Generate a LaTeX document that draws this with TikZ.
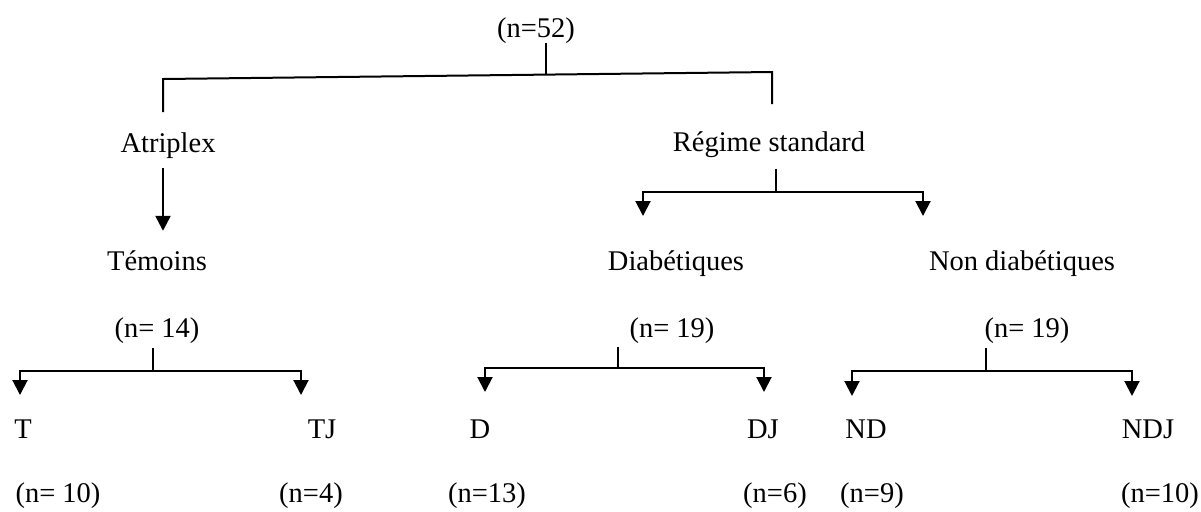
\documentclass[tikz,border=0pt]{standalone}
\usepackage{fontspec}
\setmainfont{Liberation Serif}
\usetikzlibrary{arrows.meta}
\tikzset{
  lbl/.style={anchor=base, inner sep=0pt, font=\fontsize{14.25}{17}\selectfont},
  br/.style={line width=1pt},
  stem/.style={line width=0.8pt},
  arr/.style={line width=1pt, -{Triangle[width=7.5pt,length=7.5pt]}}
}
\begin{document}
\begin{tikzpicture}[x=0.5pt, y=-0.5pt]
    \useasboundingbox (0,0) rectangle (1201,511);
    % labels
    \node[lbl] (root) at (536,37) {(n=52)};
    \node[lbl] (atr) at (168,152) {Atriplex};
    \node[lbl] (reg) at (769,151) {Régime standard};
    \node[lbl] (tem) at (157,270) {Témoins};
    \node[lbl] (dia) at (676,270) {Diabétiques};
    \node[lbl] (non) at (1022,270) {Non diabétiques};
    \node[lbl] (n14) at (157,337) {(n= 14)};
    \node[lbl] (n19d) at (672,337) {(n= 19)};
    \node[lbl] (n19n) at (1027,337) {(n= 19)};
    \node[lbl] (t) at (23,438) {T};
    \node[lbl] (tj) at (322,438) {TJ};
    \node[lbl] (d) at (480,438) {D};
    \node[lbl] (dj) at (763,438) {DJ};
    \node[lbl] (nd) at (866,438) {ND};
    \node[lbl] (ndj) at (1148,438) {NDJ};
    \node[lbl] (nt) at (58,502) {(n= 10)};
    \node[lbl] (ntj) at (311,502) {(n=4)};
    \node[lbl] (nd13) at (487,502) {(n=13)};
    \node[lbl] (ndj6) at (775,502) {(n=6)};
    \node[lbl] (nnd) at (872,502) {(n=9)};
    \node[lbl] (nndj) at (1160,502) {(n=10)};
    % top bracket
    \coordinate (barL) at (163,79);
    \coordinate (barR) at (772,72);
    \coordinate (barM) at (546,73.5);
    \coordinate (endL) at (163,112);
    \coordinate (endR) at (772,104);
    \draw[stem] (root.south -| barM) -- (barM);
    \draw[br] (endL) -- (barL) -- (barR) -- (endR);
    % Atriplex
    \draw[arr, line width=1.2pt, shorten <=5pt, shorten >=9.5pt] (atr.south -| barL) -- (tem.north -| barL);
    % Regime standard
    \coordinate (regM) at (776,192);
    \coordinate (tipD) at (643,216);
    \coordinate (tipN) at (923,216);
    \draw[stem, shorten <=5.5pt] (reg.south -| regM) -- (regM);
    \draw[arr] (regM) -| (tipD);
    \draw[arr] (regM) -| (tipN);
    % temoins
    \coordinate (temM) at (153,371);
    \coordinate (tipT) at (20,395);
    \coordinate (tipTJ) at (301,395);
    \draw[stem, shorten <=2.5pt] (n14.south -| temM) -- (temM);
    \draw[arr] (temM) -| (tipT);
    \draw[arr] (temM) -| (tipTJ);
    % diabetiques
    \coordinate (diaM) at (618,368);
    \coordinate (tipD2) at (485,392);
    \coordinate (tipDJ) at (764,392);
    \draw[stem, shorten <=2pt] (n19d.south -| diaM) -- (diaM);
    \draw[arr] (diaM) -| (tipD2);
    \draw[arr] (diaM) -| (tipDJ);
    % non diabetiques
    \coordinate (nonM) at (986,371);
    \coordinate (tipND) at (852,396);
    \coordinate (tipNDJ) at (1132,396);
    \draw[stem, shorten <=2.5pt] (n19n.south -| nonM) -- (nonM);
    \draw[arr] (nonM) -| (tipND);
    \draw[arr] (nonM) -| (tipNDJ);
\end{tikzpicture}
\end{document}
